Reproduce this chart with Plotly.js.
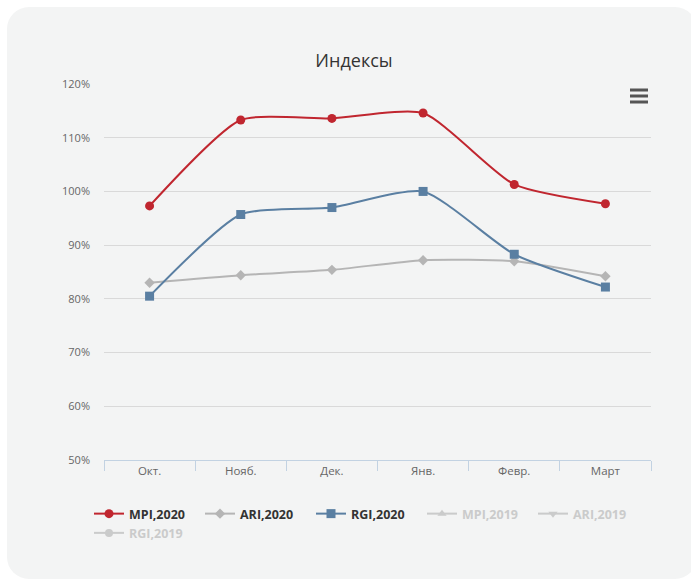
<!DOCTYPE html>
<html>
<head>
<meta charset="utf-8">
<script src="https://cdn.plot.ly/plotly-3.0.1.min.js"></script>
<style>
  html, body { margin: 0; padding: 0; background: #ffffff; }
  #wrap { position: relative; width: 691px; height: 579px; overflow: hidden; }
  #card { position: absolute; left: 7px; top: 7px; width: 690px; height: 572px; background: #f3f4f4; border-radius: 22px; }
  #chart { position: absolute; left: 0; top: 0; width: 691px; height: 579px; }
</style>
</head>
<body>
<div id="wrap"><div id="card"></div><div id="chart"></div></div>
<script>
const categories = ["Окт.", "Нояб.", "Дек.", "Янв.", "Февр.", "Март"];
const mpi2020 = [97.3, 113.3, 113.6, 114.6, 101.3, 97.7];
const ari2020 = [83.0, 84.4, 85.4, 87.2, 87.0, 84.2];
const rgi2020 = [80.5, 95.7, 97.0, 100.0, 88.3, 82.2];
// 2019 series are hidden in the reference (legend only); their values are not visible
const mpi2019 = [null, null, null, null, null, null];
const ari2019 = [null, null, null, null, null, null];
const rgi2019 = [null, null, null, null, null, null];
const yTicks = [50, 60, 70, 80, 90, 100, 110, 120];
const yTickText = ["50%", "60%", "70%", "80%", "90%", "100%", "110%", "120%"];

const lineStyle = (c) => ({ color: c, width: 2, shape: 'spline', smoothing: 0.6 });
const hidden = (t) => '<span style="color:#a3a3a3">' + t + '</span>';

const traces = [
  { name: 'MPI,2020', x: categories, y: mpi2020, type: 'scatter', mode: 'lines+markers',
    line: lineStyle('#c0262f'), marker: { symbol: 'circle', size: 9, color: '#c0262f' } },
  { name: 'ARI,2020', x: categories, y: ari2020, type: 'scatter', mode: 'lines+markers',
    line: lineStyle('#b5b5b5'), marker: { symbol: 'diamond', size: 8, color: '#b5b5b5' } },
  { name: 'RGI,2020', x: categories, y: rgi2020, type: 'scatter', mode: 'lines+markers',
    line: lineStyle('#5a7fa2'), marker: { symbol: 'square', size: 9, color: '#5a7fa2' } },
  { name: hidden('MPI,2019'), x: categories, y: mpi2019, type: 'scatter', mode: 'lines+markers', visible: 'legendonly',
    line: { color: '#a3a3a3', width: 2 }, marker: { symbol: 'triangle-up', size: 8, color: '#a3a3a3' } },
  { name: hidden('ARI,2019'), x: categories, y: ari2019, type: 'scatter', mode: 'lines+markers', visible: 'legendonly',
    line: { color: '#a3a3a3', width: 2 }, marker: { symbol: 'triangle-down', size: 8, color: '#a3a3a3' } },
  { name: hidden('RGI,2019'), x: categories, y: rgi2019, type: 'scatter', mode: 'lines+markers', visible: 'legendonly',
    line: { color: '#a3a3a3', width: 2 }, marker: { symbol: 'circle', size: 8, color: '#a3a3a3' } }
];

const W = 691, H = 579;
const PL = 104, PR = 651, PT = 84, PB = 460;
const px = (x) => (x - PL) / (PR - PL);
const py = (y) => (PB - y) / (PB - PT);
const hb = (y) => ({ type: 'line', xref: 'paper', yref: 'paper',
  x0: px(630), x1: px(648), y0: py(y), y1: py(y),
  line: { color: '#555555', width: 3 } });

const layout = {
  width: W, height: H,
  paper_bgcolor: 'rgba(0,0,0,0)',
  plot_bgcolor: 'rgba(0,0,0,0)',
  margin: { l: PL, r: W - PR, t: PT, b: H - PB },
  font: { family: '"Open Sans", "DejaVu Sans", sans-serif', color: '#666666', size: 11 },
  title: { text: 'Индексы', x: 354 / W, xanchor: 'center', xref: 'container',
    y: 1 - 61 / H, yref: 'container', yanchor: 'middle',
    font: { family: '"Open Sans", sans-serif', size: 18, color: '#333333' } },
  xaxis: {
    type: 'category', categoryorder: 'array', categoryarray: categories,
    range: [-0.5, 5.5], fixedrange: true,
    showgrid: false, zeroline: false,
    showline: true, linecolor: '#c2d2e2', linewidth: 1,
    ticks: 'outside', tickson: 'boundaries', ticklen: 10, tickcolor: '#c2d2e2', tickwidth: 1,
    tickfont: { size: 11.5, color: '#666666' }
  },
  yaxis: {
    range: [50, 120], fixedrange: true,
    tickvals: yTicks, ticktext: yTickText,
    showgrid: true, gridcolor: '#d9d9d9', gridwidth: 1,
    zeroline: false, showline: false, ticks: '',
    ticklabelstandoff: 13,
    tickfont: { size: 11, color: '#666666' }
  },
  showlegend: true,
  legend: {
    orientation: 'h', x: px(89), xanchor: 'left', y: py(499), yanchor: 'top',
    font: { size: 12.5, color: '#333333', weight: 'bold', family: '"Open Sans", sans-serif' },
    itemwidth: 30, tracegroupgap: 0, bgcolor: 'rgba(0,0,0,0)',
    entrywidth: 66, entrywidthmode: 'pixels'
  },
  shapes: [hb(90), hb(96), hb(102)],
  hovermode: false
};

Plotly.newPlot('chart', traces, layout, { displayModeBar: false, staticPlot: true });
</script>
</body>
</html>
